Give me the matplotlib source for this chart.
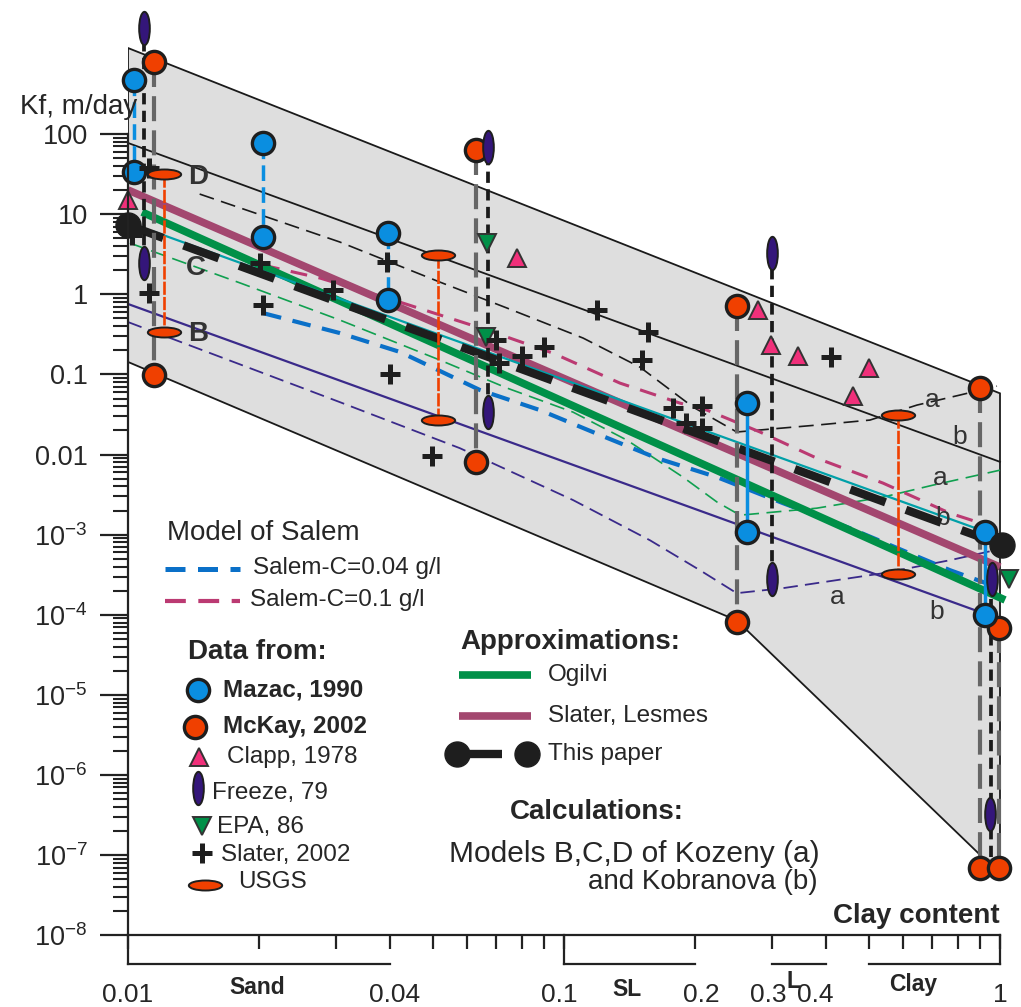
import matplotlib
matplotlib.use('Agg')
import matplotlib.pyplot as plt
from matplotlib.lines import Line2D
from matplotlib.path import Path
from matplotlib.transforms import Affine2D, ScaledTranslation
from matplotlib.ticker import NullFormatter

plt.rcParams['font.family'] = ['Liberation Sans', 'DejaVu Sans']
plt.rcParams['mathtext.fontset'] = 'custom'
plt.rcParams['mathtext.rm'] = 'Liberation Sans'
plt.rcParams['mathtext.default'] = 'regular'

W, H = 1021, 1007
TXT = '#262626'

# ---- data: x = clay content (fraction), y = Kf (m/day)
env_x = [0.01, 1.0, 1.0, 0.92, 0.249, 0.01]
env_y = [1183, 0.058, 6.5e-8, 9e-8, 8.5e-5, 0.143]

kob_d_x = [0.01, 1.0]
kob_d_y = [77.3, 0.0081]
kob_c_x = [0.0115, 1.0]
kob_c_y = [6.0, 9.35e-4]
kob_b_x = [0.01, 0.914]
kob_b_y = [0.756, 1.05e-4]

koz_d_x = [0.0146, 0.0306, 0.0519, 0.074, 0.1106, 0.1494, 0.1977, 0.249, 0.38, 0.503, 0.645, 0.809, 0.984]
koz_d_y = [17.8, 4.49, 1.42, 0.673, 0.284, 0.123, 0.0391, 0.0191, 0.0233, 0.0269, 0.0414, 0.0552, 0.0714]
koz_c_x = [0.0101, 0.0181, 0.0306, 0.0519, 0.074, 0.1049, 0.1395, 0.1875, 0.2244, 0.2533, 0.38, 0.539, 0.702, 1.0]
koz_c_y = [4.35, 1.38, 0.477, 0.151, 0.0675, 0.0338, 0.0151, 0.00522, 0.00255, 0.00175, 0.00214, 0.00294, 0.00415, 0.00638]
koz_b_x = [0.01, 0.0306, 0.0577, 0.1049, 0.1575, 0.205, 0.249, 0.318, 0.539, 0.768, 0.974]
koz_b_y = [0.45, 0.0451, 0.012, 0.0027, 8.5e-4, 3.6e-4, 1.86e-4, 2.15e-4, 3.3e-4, 4.8e-4, 6.4e-4]

salem04_x = [0.0204, 0.0306, 0.0421, 0.0642, 0.0881, 0.121, 0.1634, 0.2244, 0.318, 0.453, 0.768, 1.0]
salem04_y = [0.582, 0.328, 0.19, 0.0637, 0.0358, 0.0175, 0.009, 0.00522, 0.00247, 0.0012, 3.6e-4, 2.15e-4]
salem1_x = [0.0204, 0.0276, 0.0427, 0.0666, 0.0944, 0.1344, 0.1845, 0.2128, 0.2816, 0.38, 0.539, 0.768, 0.984]
salem1_y = [2.31, 1.59, 0.776, 0.357, 0.184, 0.0778, 0.0438, 0.0358, 0.0191, 0.009, 0.0044, 0.00185, 0.0012]

ogilvi_x = [0.01077, 1.027]
ogilvi_y = [10.6, 1.53e-4]
lesmes_x = [0.01, 1.0]
lesmes_y = [20, 3.94e-4]
paper_x = [0.01, 1.011]
paper_y = [7.3, 7.43e-4]

# measured points, listed in (upper, lower) pairs where a range line joins them
mazac_x = [0.0103, 0.0103, 0.0204, 0.0204, 0.0394, 0.0394, 0.263, 0.263, 0.925, 0.925]
mazac_y = [472, 33.5, 77, 5.2, 5.8, 0.85, 0.044, 1.07e-3, 1.07e-3, 1.0e-4]
mckay_x = [0.0115, 0.0115, 0.0627, 0.0627, 0.249, 0.249, 0.9, 0.9, 0.995, 0.995]
mckay_y = [792, 0.097, 63, 0.0081, 0.71, 8.2e-5, 0.067, 6.9e-8, 6.8e-5, 6.9e-8]
usgs_x = [0.0121, 0.0121, 0.0514, 0.0514, 0.583, 0.583]
usgs_y = [31.7, 0.337, 3.1, 0.027, 0.031, 3.2e-4]
freeze_x = [0.0109, 0.0109, 0.067, 0.067, 0.30, 0.30, 0.96, 0.95]
freeze_y = [2100, 2.45, 68.8, 0.034, 3.3, 2.8e-4, 2.8e-4, 3.3e-7]
freeze_rng_x = [0.0109, 0.067, 0.30, 0.955]
freeze_rng_hi = [2100, 68.8, 3.3, 4.8e-4]
freeze_rng_lo = [2.45, 0.034, 2.8e-4, 9.5e-8]
clapp_x = [0.01, 0.078, 0.279, 0.298, 0.345, 0.50, 0.46]
clapp_y = [15, 2.8, 0.64, 0.23, 0.17, 0.12, 0.053]
epa_x = [0.0667, 0.0662, 1.05]
epa_y = [4.35, 0.29, 2.8e-4]
slater_x = [0.0112, 0.0102, 0.0112, 0.0201, 0.0204, 0.0295, 0.0393, 0.04, 0.0499, 0.07, 0.0708,
            0.080, 0.0898, 0.119, 0.156, 0.151, 0.178, 0.207, 0.19, 0.207, 0.41]
slater_y = [37.5, 5.5, 1.03, 2.45, 0.73, 1.14, 2.5, 0.1, 0.0095, 0.27, 0.14,
            0.17, 0.22, 0.64, 0.34, 0.15, 0.038, 0.04, 0.025, 0.0215, 0.165]

ytick_vals = [10.0 ** k for k in range(-8, 3)]
ytick_labels = ['$10^{%d}$' % k for k in range(-8, -2)] + ['0.01', '0.1', '1', '10', '100']
xtick_vals = [0.01, 0.04, 0.1, 0.2, 0.3, 0.4, 1]
xtick_labels = ['0.01', '0.04', '0.1', '0.2', '0.3', '0.4', '1']
xtick_shift = [0, 4, -5, 6, -4, -11, 0]   # px nudges of the printed labels
xminor_vals = [0.02, 0.03, 0.05, 0.06, 0.07, 0.08, 0.09, 0.5, 0.6, 0.7, 0.8, 0.9]
groups = ['Sand', 'SL', 'L', 'Clay']
group_lo = [0.01, 0.1, 0.3, 0.5]
group_hi = [0.04, 0.2, 0.4, 1.0]

# colours
BLUE = '#0a8ee0'
ORANGE = '#f04000'
PINK = '#f0307a'
INDIGO = '#34167a'
GREEN = '#009048'
PURPLE = '#a3476f'
TEAL = '#00a0a8'
NAVY = '#3a2a8a'
SBLUE = '#0a70c8'
SPINK = '#bb3a72'
GREY = '#666666'
EDGE = '#1e1e1e'

freeze_m = Path.unit_circle().transformed(Affine2D().scale(0.32, 1.0))
usgs_m = Path.unit_circle().transformed(Affine2D().scale(1.0, 0.3))


def px2data(px, py):
    return 0.01 * 10 ** ((px - 128) / 436.0), 10 ** (2 - (py - 134) / 80.13)


def fpos(px, py):
    return px / W, 1 - py / H


fig = plt.figure(figsize=(W / 100, H / 100), dpi=100)
ax = fig.add_axes([128 / W, 1 - 935.3 / H, 1 - 128 / W, 935.3 / H])
ax.set_xscale('log')
ax.set_yscale('log')
ax.patch.set_alpha(0)

# envelope
ax.fill(env_x, env_y, facecolor='#dedede', edgecolor='#1a1a1a', lw=1.3, zorder=0.5)

# Kobranova (b) and Kozeny (a) model curves
ax.plot(kob_d_x, kob_d_y, color='#1a1a1a', lw=1.3, zorder=2)
ax.plot(koz_d_x, koz_d_y, color='#1a1a1a', lw=1.2, dashes=(9, 4.5), zorder=2)
ax.plot(koz_c_x, koz_c_y, color='#10a050', lw=1.2, dashes=(9, 4.5), zorder=2)
ax.plot(kob_b_x, kob_b_y, color=NAVY, lw=1.6, zorder=2)
ax.plot(koz_b_x, koz_b_y, color=NAVY, lw=1.3, dashes=(8, 4), zorder=2)
ax.plot(salem04_x, salem04_y, color=SBLUE, lw=3.0, dashes=(4.5, 2.8), zorder=2.2)
ax.plot(salem1_x, salem1_y, color=SPINK, lw=2.2, dashes=(5.5, 3.8), zorder=2.2)

# approximations
ax.plot(ogilvi_x, ogilvi_y, color=GREEN, lw=5.5, solid_capstyle='butt', zorder=3)
ax.plot(lesmes_x, lesmes_y, color=PURPLE, lw=5.5, solid_capstyle='butt', zorder=3.1)
ax.plot(kob_c_x, kob_c_y, color=TEAL, lw=1.6, zorder=3.2)
ax.plot(paper_x, paper_y, color='#1e1e1e', lw=6, dashes=(4.5, 2.6), zorder=3.5)

# range lines joining pairs
for i in range(0, len(mckay_x), 2):
    ax.plot([mckay_x[i], mckay_x[i + 1]], [mckay_y[i], mckay_y[i + 1]], color=GREY, lw=3.0,
            dashes=(6, 2.2), zorder=4, clip_on=False)
for i in range(0, len(mazac_x), 2):
    ls = dict(dashes=(4.5, 1.8)) if i < 6 else {}
    ax.plot([mazac_x[i], mazac_x[i + 1]], [mazac_y[i], mazac_y[i + 1]], color=BLUE, lw=2.5,
            zorder=4.1, **ls)
for xr, lo, hi in zip(freeze_rng_x, freeze_rng_lo, freeze_rng_hi):
    ax.plot([xr, xr], [lo, hi], color='#1a1a1a', lw=2.7, dashes=(3, 1.7), zorder=4.2, clip_on=False)
for i in range(0, len(usgs_x), 2):
    ax.plot([usgs_x[i], usgs_x[i + 1]], [usgs_y[i], usgs_y[i + 1]], color=ORANGE, lw=1.9,
            dashes=(5, 0.8), zorder=4.1)

# data markers
mk = dict(linestyle='none', clip_on=False)
ax.plot(mckay_x, mckay_y, marker='o', ms=16, mfc=ORANGE, mec=EDGE, mew=2.4, zorder=5, **mk)
ax.plot(mazac_x, mazac_y, marker='o', ms=16, mfc=BLUE, mec=EDGE, mew=2.4, zorder=5.1, **mk)
ax.plot(clapp_x, clapp_y, marker='^', ms=13, mfc=PINK, mec='#333333', mew=1.4, zorder=5.2, **mk)
ax.plot(epa_x, epa_y, marker='v', ms=13, mfc=GREEN, mec='#333333', mew=1.4, zorder=5.2, **mk)
ax.plot(slater_x, slater_y, marker='+', ms=14, mec='#1e1e1e', mew=3.6, zorder=5.3, **mk)
ax.plot(freeze_x, freeze_y, marker=freeze_m, ms=24, mfc=INDIGO, mec=EDGE, mew=1.4, zorder=5.4, **mk)
ax.plot(usgs_x, usgs_y, marker=usgs_m, ms=24, mfc=ORANGE, mec=EDGE, mew=1.4, zorder=5.4, **mk)
ax.plot(paper_x, paper_y, marker='o', ms=18, mfc='#1e1e1e', mec='#1e1e1e', zorder=5.5, **mk)

# model letters
for s, (px, py) in zip(['D', 'C', 'B'], [(198, 177), (196, 268), (198, 334)]):
    ax.text(*px2data(px, py), s, fontsize=20, fontweight='bold', color='#333333',
            ha='center', va='center', zorder=6)
for s, (px, py) in zip(['a', 'b', 'a', 'b', 'a', 'b'],
                       [(932, 400), (960, 437), (940, 478), (943, 518), (837, 597), (937, 612)]):
    ax.text(*px2data(px, py), s, fontsize=19, color='#333333', ha='center', va='center', zorder=3.3)

# axes styling
ax.set_xlim(0.01, 10 ** (-2 + (W - 128) / 436.0))
ax.set_ylim(1e-8, 10 ** (2 + 134 / 80.13))
for s in ['top', 'right']:
    ax.spines[s].set_visible(False)
ax.spines['left'].set_bounds(1e-8, 100)
ax.spines['bottom'].set_bounds(0.01, 1)
for s in ['left', 'bottom']:
    ax.spines[s].set_linewidth(1.6)
    ax.spines[s].set_color('#222222')
    ax.spines[s].set_zorder(6)

ax.set_yticks(ytick_vals, ytick_labels)
ax.set_yticks([m * 10.0 ** k for k in range(-8, 2) for m in range(2, 10)], minor=True)
ax.yaxis.set_minor_formatter(NullFormatter())
ax.tick_params(axis='y', which='major', direction='out', length=20, width=1.6, pad=9,
               labelsize=19.5, color='#222222', labelcolor=TXT)
ax.tick_params(axis='y', which='minor', direction='out', length=11, width=1.5, color='#222222')
ax.set_xticks(xtick_vals, xtick_labels)
ax.set_xticks(xminor_vals, minor=True)
ax.xaxis.set_minor_formatter(NullFormatter())
ax.tick_params(axis='x', which='both', direction='out', length=10, width=1.6, color='#222222')
ax.tick_params(axis='x', which='major', pad=24, labelsize=19, labelcolor=TXT)
for lbl, dx in zip(ax.get_xticklabels(), xtick_shift):
    lbl.set_transform(lbl.get_transform() + ScaledTranslation(dx / 100, 0, fig.dpi_scale_trans))

# texture class brackets under the axis
br_y = 4.4e-9
for lo, hi, g in zip(group_lo, group_hi, groups):
    ax.plot([lo, hi], [br_y, br_y], color='#222222', lw=1.6, clip_on=False, zorder=6)
for xv in [0.01, 0.1, 1.0]:
    ax.plot([xv, xv], [br_y, 1e-8], color='#222222', lw=1.6, clip_on=False, zorder=6)
for g, (px, py) in zip(groups, [(257, 988), (627, 989), (793, 982), (913, 985)]):
    fig.text(*fpos(px, py), g, fontsize=16.5, fontweight='bold', color=TXT, ha='center', va='center')

fig.text(*fpos(1000, 916), 'Clay content', fontsize=20, fontweight='bold', color=TXT,
         ha='right', va='center')
fig.text(*fpos(20, 107), 'Kf, m/day', fontsize=20, color=TXT, ha='left', va='center')

# ---- legend blocks
def leg_line(x0, x1, py, **kw):
    fig.add_artist(Line2D([x0 / W, x1 / W], [1 - py / H, 1 - py / H], transform=fig.transFigure, **kw))


def leg_mark(px, py, **kw):
    fig.add_artist(Line2D([px / W], [1 - py / H], transform=fig.transFigure, linestyle='none', **kw))


def leg_text(px, py, s, size=17, bold=False, ha='left'):
    fig.text(*fpos(px, py), s, fontsize=size, fontweight='bold' if bold else 'normal',
             color=TXT, ha=ha, va='center')


leg_text(167, 533, 'Model of Salem', 20)
leg_line(165, 240, 569, color=SBLUE, lw=3.6, dashes=(4, 2.5))
leg_text(253, 568, 'Salem-C=0.04 g/l', 17.5)
leg_line(165, 240, 601, color=SPINK, lw=3.0, dashes=(5, 3))
leg_text(250, 600, 'Salem-C=0.1 g/l', 17.5)

leg_text(188, 652, 'Data from:', 20, bold=True)
leg_mark(198, 690, marker='o', ms=16, mfc=BLUE, mec=EDGE, mew=2.4)
leg_text(223, 690, 'Mazac, 1990', 17.5, bold=True)
leg_mark(195, 727, marker='o', ms=16, mfc=ORANGE, mec=EDGE, mew=2.4)
leg_text(223, 727, 'McKay, 2002', 17.5, bold=True)
leg_mark(199, 757, marker='^', ms=13, mfc=PINK, mec='#333333', mew=1.4)
leg_text(227, 757, 'Clapp, 1978', 17.5)
leg_mark(198, 788, marker=freeze_m, ms=24, mfc=INDIGO, mec=EDGE, mew=1.4)
leg_text(212, 793, 'Freeze, 79', 17.5)
leg_mark(202, 826, marker='v', ms=13, mfc=GREEN, mec='#333333', mew=1.4)
leg_text(217, 827, 'EPA, 86', 17.5)
leg_mark(202, 853, marker='+', ms=14, mec='#1e1e1e', mew=3.6)
leg_text(221, 855, 'Slater, 2002', 17.5)
leg_mark(205, 885, marker=usgs_m, ms=24, mfc=ORANGE, mec=EDGE, mew=1.4)
leg_text(238, 882, 'USGS', 17.5)

leg_text(460, 642, 'Approximations:', 20, bold=True)
leg_line(459, 531, 675, color=GREEN, lw=5.5, solid_capstyle='butt')
leg_text(548, 675, 'Ogilvi', 17.5)
leg_line(459, 531, 716, color=PURPLE, lw=5.5, solid_capstyle='butt')
leg_text(548, 716, 'Slater, Lesmes', 17.5)
leg_line(457, 502, 754, color='#1e1e1e', lw=6, solid_capstyle='butt')
leg_mark(457, 754, marker='o', ms=18, mfc='#1e1e1e', mec='#1e1e1e')
leg_mark(527, 754, marker='o', ms=18, mfc='#1e1e1e', mec='#1e1e1e')
leg_text(548, 754, 'This paper', 17.5)

leg_text(510, 812, 'Calculations:', 20, bold=True)
leg_text(820, 854, 'Models B,C,D of Kozeny (a)', 21.5, ha='right')
leg_text(818, 882, 'and Kobranova (b)', 20, ha='right')

fig.savefig('out.png', dpi=100)
